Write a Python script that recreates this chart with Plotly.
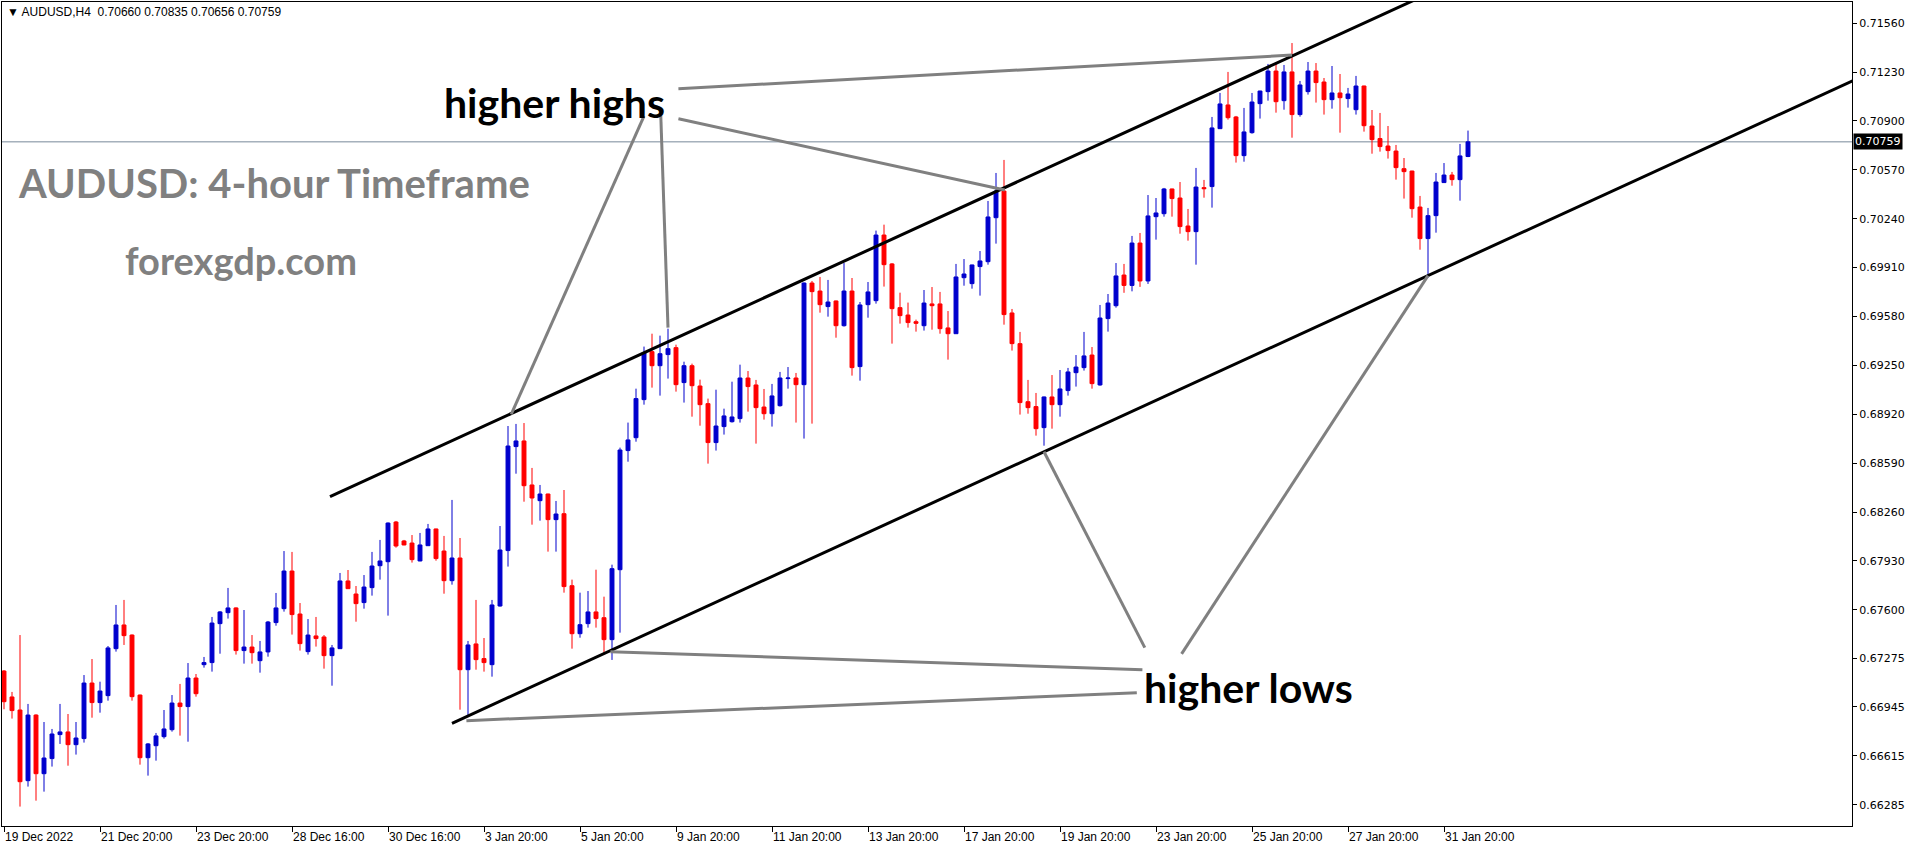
import plotly.graph_objects as go

# ---------------- data (AUDUSD H4, bar index 0..183) ----------------
opens = [0.67187,0.67012,0.66924,0.66447,0.66890,0.66494,0.66596,0.66758,0.66776,0.66690,
         0.66731,0.67106,0.66974,0.67021,0.67338,0.67498,0.67430,0.67025,0.66602,0.66683,
         0.66744,0.66791,0.66971,0.66947,0.67140,0.67230,0.67244,0.67507,0.67581,0.67613,
         0.67325,0.67349,0.67257,0.67316,0.67514,0.67608,0.67862,0.67572,0.67318,0.67424,
         0.67417,0.67291,0.67338,0.67795,0.67707,0.67649,0.67750,0.67898,0.67925,0.68193,
         0.68065,0.68051,0.67930,0.68033,0.68146,0.67997,0.67797,0.67950,0.67196,0.67370,
         0.67271,0.67230,0.67626,0.68000,0.68702,0.68740,0.68443,0.68337,0.68382,0.68209,
         0.68249,0.67763,0.67439,0.67507,0.67586,0.67547,0.67399,0.67871,0.68675,0.68762,
         0.69019,0.69343,0.69248,0.69323,0.69370,0.69134,0.69248,0.69111,0.68992,0.68729,
         0.68837,0.68870,0.68891,0.69165,0.69118,0.68969,0.68924,0.68978,0.69161,0.69165,
         0.69120,0.69806,0.69752,0.69647,0.69685,0.69518,0.69752,0.69242,0.69660,0.69687,
         0.70130,0.69935,0.69640,0.69590,0.69545,0.69518,0.69665,0.69665,0.69503,0.69464,
         0.69842,0.69802,0.69917,0.69950,0.70247,0.70427,0.69604,0.69397,0.69005,0.68972,
         0.68830,0.69037,0.68985,0.69080,0.69201,0.69235,0.69320,0.69118,0.69566,0.69653,
         0.69860,0.69790,0.70076,0.69820,0.70254,0.70274,0.70441,0.70380,0.70191,0.70153,
         0.70450,0.70457,0.70848,0.71008,0.70927,0.70666,0.70821,0.71017,0.71098,0.71237,
         0.71037,0.71231,0.70943,0.71098,0.71237,0.71163,0.71044,0.71089,0.71051,0.70976,
         0.71136,0.70866,0.70781,0.70731,0.70697,0.70578,0.70562,0.70319,0.70106,0.70261,
         0.70484,0.70535,0.70504,0.70660]
highs = [0.67194,0.67046,0.67430,0.66965,0.66895,0.66843,0.66796,0.66965,0.66897,0.66843,
         0.67160,0.67268,0.67115,0.67356,0.67633,0.67667,0.67434,0.67028,0.66701,0.66769,
         0.66924,0.67025,0.67100,0.67241,0.67167,0.67282,0.67552,0.67592,0.67748,0.67617,
         0.67599,0.67430,0.67390,0.67525,0.67714,0.67997,0.67991,0.67646,0.67538,0.67552,
         0.67430,0.67363,0.67849,0.67869,0.67761,0.67835,0.67991,0.68072,0.68190,0.68200,
         0.68072,0.68105,0.68119,0.68180,0.68148,0.68099,0.68342,0.68085,0.67390,0.67667,
         0.67410,0.67667,0.68166,0.68841,0.68855,0.68861,0.68558,0.68443,0.68384,0.68335,
         0.68409,0.67804,0.67716,0.67727,0.67871,0.67689,0.67905,0.68695,0.68864,0.69093,
         0.69377,0.69464,0.69451,0.69498,0.69390,0.69275,0.69262,0.69154,0.69026,0.69086,
         0.68958,0.69140,0.69255,0.69212,0.69152,0.69091,0.69125,0.69206,0.69239,0.69199,
         0.69810,0.69820,0.69847,0.69827,0.69688,0.69941,0.69840,0.69678,0.69813,0.70160,
         0.70200,0.69941,0.69741,0.69674,0.69559,0.69759,0.69779,0.69746,0.69617,0.69935,
         0.69968,0.69930,0.70022,0.70360,0.70549,0.70637,0.69631,0.69476,0.69152,0.69064,
         0.69040,0.69185,0.69219,0.69233,0.69320,0.69476,0.69374,0.69658,0.69732,0.69941,
         0.69935,0.70124,0.70144,0.70400,0.70380,0.70448,0.70443,0.70488,0.70306,0.70583,
         0.70502,0.70927,0.71089,0.71231,0.70934,0.70988,0.71089,0.71104,0.71285,0.71298,
         0.71278,0.71426,0.71170,0.71298,0.71291,0.71190,0.71271,0.71217,0.71123,0.71204,
         0.71138,0.70974,0.70954,0.70866,0.70738,0.70650,0.70564,0.70394,0.70313,0.70549,
         0.70616,0.70556,0.70745,0.70835]
lows = [0.66929,0.66866,0.66272,0.66407,0.66312,0.66373,0.66542,0.66695,0.66548,0.66623,
        0.66704,0.66872,0.66906,0.66987,0.67318,0.67363,0.66987,0.66555,0.66481,0.66582,
        0.66731,0.66778,0.66751,0.66710,0.67014,0.67210,0.67183,0.67304,0.67541,0.67298,
        0.67237,0.67237,0.67176,0.67284,0.67493,0.67588,0.67433,0.67325,0.67298,0.67352,
        0.67203,0.67088,0.67336,0.67741,0.67520,0.67608,0.67696,0.67804,0.67561,0.68020,
        0.68036,0.67919,0.67928,0.68031,0.67932,0.67709,0.67770,0.66926,0.66879,0.67196,
        0.67183,0.67149,0.67622,0.67892,0.68519,0.68330,0.68175,0.68202,0.67993,0.67993,
        0.67716,0.67338,0.67412,0.67480,0.67480,0.67307,0.67262,0.67446,0.68600,0.68735,
        0.68985,0.69100,0.69046,0.69161,0.69073,0.68999,0.68904,0.68843,0.68587,0.68675,
        0.68783,0.68864,0.68864,0.68938,0.68722,0.68884,0.68837,0.68972,0.69093,0.68864,
        0.68756,0.68857,0.69606,0.69579,0.69437,0.69512,0.69181,0.69147,0.69572,0.69667,
        0.69782,0.69397,0.69532,0.69505,0.69478,0.69485,0.69491,0.69464,0.69289,0.69462,
        0.69788,0.69768,0.69721,0.69930,0.70072,0.69525,0.69350,0.68918,0.68924,0.68776,
        0.68708,0.68823,0.68904,0.69046,0.69107,0.69215,0.69093,0.69113,0.69478,0.69640,
        0.69740,0.69750,0.69780,0.69800,0.70099,0.70254,0.70254,0.70139,0.70092,0.69930,
        0.70382,0.70315,0.70846,0.70909,0.70619,0.70625,0.70814,0.70916,0.71037,0.70956,
        0.70976,0.70787,0.70929,0.71078,0.71024,0.70943,0.70983,0.70821,0.70990,0.70943,
        0.70828,0.70679,0.70693,0.70646,0.70504,0.70376,0.70247,0.70031,0.69842,0.70146,
        0.70482,0.70463,0.70362,0.70656]
closes = [0.66980,0.66920,0.66440,0.66890,0.66494,0.66600,0.66762,0.66776,0.66690,0.66735,
          0.67106,0.66974,0.67052,0.67343,0.67498,0.67426,0.67014,0.66602,0.66695,0.66749,
          0.66796,0.66971,0.66947,0.67140,0.67034,0.67244,0.67511,0.67586,0.67613,0.67325,
          0.67349,0.67311,0.67316,0.67518,0.67613,0.67862,0.67568,0.67372,0.67430,0.67406,
          0.67291,0.67343,0.67795,0.67743,0.67642,0.67754,0.67896,0.67930,0.68186,0.68031,
          0.68038,0.67939,0.68038,0.68146,0.67946,0.67797,0.67950,0.67196,0.67363,0.67264,
          0.67244,0.67633,0.68004,0.68706,0.68740,0.68438,0.68355,0.68382,0.68209,0.68247,
          0.67757,0.67439,0.67500,0.67586,0.67541,0.67399,0.67878,0.68679,0.68747,0.69026,
          0.69336,0.69248,0.69329,0.69363,0.69120,0.69248,0.69113,0.68985,0.68729,0.68841,
          0.68909,0.68902,0.69165,0.69107,0.68965,0.68924,0.69044,0.69165,0.69165,0.69120,
          0.69806,0.69748,0.69660,0.69678,0.69518,0.69752,0.69235,0.69658,0.69746,0.70130,
          0.69930,0.69633,0.69586,0.69539,0.69534,0.69671,0.69653,0.69498,0.69464,0.69847,
          0.69867,0.69928,0.69955,0.70252,0.70427,0.69593,0.69397,0.68999,0.68965,0.68823,
          0.69037,0.68985,0.69091,0.69206,0.69239,0.69314,0.69127,0.69570,0.69671,0.69854,
          0.69790,0.70076,0.69820,0.70259,0.70279,0.70441,0.70376,0.70187,0.70153,0.70454,
          0.70443,0.70853,0.71015,0.70922,0.70666,0.70826,0.71028,0.71102,0.71237,0.71030,
          0.71231,0.70943,0.71143,0.71237,0.71159,0.71044,0.71089,0.71057,0.71082,0.71136,
          0.70868,0.70774,0.70727,0.70700,0.70585,0.70558,0.70308,0.70106,0.70261,0.70488,
          0.70535,0.70504,0.70664,0.70759]
bar_index = list(range(len(closes)))

x_tick_bars = [0, 12, 24, 36, 48, 60, 72, 84, 96, 108, 120, 132, 144, 156, 168, 180]
x_tick_labels = ["19 Dec 2022", "21 Dec 20:00", "23 Dec 20:00", "28 Dec 16:00", "30 Dec 16:00",
                 "3 Jan 20:00", "5 Jan 20:00", "9 Jan 20:00", "11 Jan 20:00", "13 Jan 20:00",
                 "17 Jan 20:00", "19 Jan 20:00", "23 Jan 20:00", "25 Jan 20:00", "27 Jan 20:00",
                 "31 Jan 20:00"]
y_tick_values = [0.71560, 0.71230, 0.70900, 0.70570, 0.70240, 0.69910, 0.69580, 0.69250,
                 0.68920, 0.68590, 0.68260, 0.67930, 0.67600, 0.67275, 0.66945, 0.66615, 0.66285]
y_tick_labels = ["%.5f" % v for v in y_tick_values]

last_price = closes[-1]
header = "▼ AUDUSD,H4  %.5f %.5f %.5f %.5f" % (opens[-1], highs[-1], lows[-1], closes[-1])

# trend-line anchors (bar index, price)
channel_upper = [(40.75, 0.68365), (190.0, 0.72055)]
channel_lower = [(56.0, 0.66834), (232.0, 0.71194)]
gray_lines = [
    [(84.3, 0.71117), (161.0, 0.71345)],
    [(84.3, 0.70915), (125.1, 0.70434)],
    [(80.0, 0.70933), (63.4, 0.68920)],
    [(82.1, 0.70933), (83.0, 0.69505)],
    [(142.3, 0.67196), (75.8, 0.67318)],
    [(141.6, 0.67040), (57.8, 0.66852)],
    [(142.6, 0.67345), (130.0, 0.68667)],
    [(147.2, 0.67303), (178.0, 0.69856)],
]

BLUE = "#0000CD"
RED = "#FF0000"

fig = go.Figure()
fig.add_trace(go.Candlestick(
    x=bar_index, open=opens, high=highs, low=lows, close=closes,
    increasing=dict(line=dict(color=BLUE, width=1), fillcolor=BLUE),
    decreasing=dict(line=dict(color=RED, width=1), fillcolor=RED),
    whiskerwidth=0, showlegend=False, hoverinfo="skip",
))

shapes = []
shapes.append(dict(type="line", xref="paper", yref="y", x0=0, x1=1, y0=last_price, y1=last_price,
                   line=dict(color="#778899", width=1), layer="below"))
for p0, p1 in [channel_upper, channel_lower]:
    shapes.append(dict(type="line", xref="x", yref="y", x0=p0[0], y0=p0[1], x1=p1[0], y1=p1[1],
                       line=dict(color="black", width=3)))
for p0, p1 in gray_lines:
    shapes.append(dict(type="line", xref="x", yref="y", x0=p0[0], y0=p0[1], x1=p1[0], y1=p1[1],
                       line=dict(color="#808080", width=3)))

annotations = [
    dict(xref="paper", yref="paper", x=0.0016, y=0.9879, xanchor="left", yanchor="middle",
         text=header, showarrow=False, font=dict(family="Liberation Sans", size=12, color="black")),
    dict(xref="paper", yref="paper", x=0.1470, y=0.7803, xanchor="center", yanchor="middle",
         text="<b>AUDUSD: 4-hour Timeframe</b>", showarrow=False,
         font=dict(family="Lato", size=40, color="#808080")),
    dict(xref="paper", yref="paper", x=0.1290, y=0.6869, xanchor="center", yanchor="middle",
         text="<b>forexgdp.com</b>", showarrow=False,
         font=dict(family="Lato", size=38, color="#808080")),
    dict(xref="x", yref="y", x=68.75, y=0.71024, xanchor="center", yanchor="middle",
         text="<b>higher highs</b>", showarrow=False,
         font=dict(family="Lato", size=41, color="black")),
    dict(xref="x", yref="y", x=155.5, y=0.67073, xanchor="center", yanchor="middle",
         text="<b>higher lows</b>", showarrow=False,
         font=dict(family="Lato", size=41, color="black")),
    dict(xref="paper", yref="y", x=1.0, y=last_price, xanchor="left", yanchor="middle",
         xshift=1, text="%.5f" % last_price, showarrow=False, bgcolor="black", borderpad=1,
         font=dict(family="DejaVu Sans", size=11, color="white")),
]

fig.update_layout(
    width=1916, height=850,
    margin=dict(l=2, r=64, t=2, b=24),
    paper_bgcolor="white", plot_bgcolor="white",
    shapes=shapes, annotations=annotations,
    showlegend=False,
    xaxis=dict(range=[-0.25, 231], tickmode="array", tickvals=x_tick_bars, ticktext=x_tick_labels,
               ticks="outside", ticklen=5, tickcolor="black", showgrid=False, zeroline=False,
               showline=True, linecolor="black", linewidth=1, mirror=True,
               ticklabelposition="outside right",
               tickfont=dict(family="Liberation Sans", size=12, color="black"),
               rangeslider=dict(visible=False), fixedrange=True),
    yaxis=dict(range=[0.66141, 0.71703], side="right", tickmode="array", tickvals=y_tick_values,
               ticktext=y_tick_labels, ticks="outside", ticklen=4, tickcolor="black",
               showgrid=False, zeroline=False, showline=True, linecolor="black", linewidth=1,
               mirror=True, tickfont=dict(family="DejaVu Sans", size=11, color="black"),
               fixedrange=True),
)

fig.write_html("out.html", config={"displayModeBar": False},
               post_script="document.body.style.margin='0';document.body.style.overflow='hidden';")
